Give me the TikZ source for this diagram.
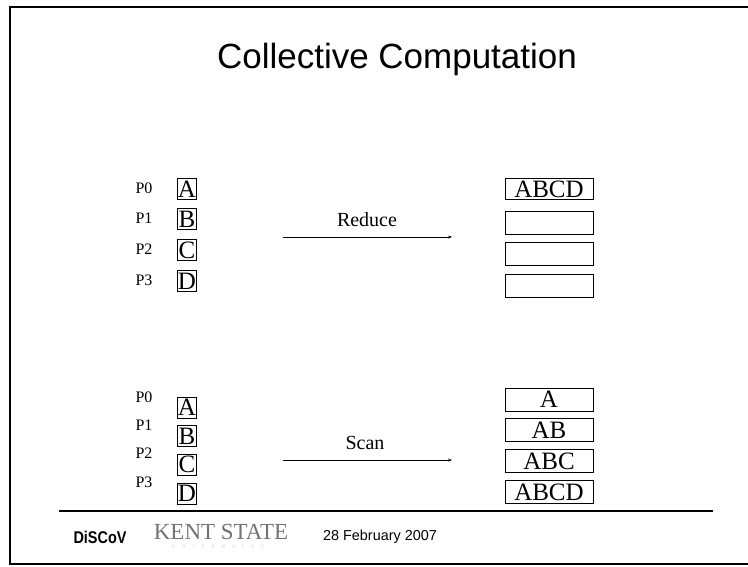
\documentclass[tikz,border=0pt]{standalone}
\usepackage{fontspec}
\setmainfont{Liberation Serif}
\newfontfamily\arialfont{Liberation Sans}
\usetikzlibrary{arrows.meta}
\begin{document}
\begin{tikzpicture}[x=1pt,y=-1pt,
  plabel/.style={inner sep=0pt,font=\fontsize{16}{16}\selectfont},
  cellbox/.style={draw,line width=0.8pt,inner sep=0pt,minimum width=19pt,minimum height=21pt,font=\fontsize{25}{25}\selectfont},
  resbox/.style={draw,line width=0.8pt,inner sep=0pt,minimum width=88pt,minimum height=23pt,font=\fontsize{25}{25}\selectfont},
  oplabel/.style={inner sep=0pt,font=\fontsize{20}{20}\selectfont},
  oparrow/.style={line width=0.8pt,-{Stealth[length=4pt,width=3pt]}},
  frame/.style={line width=2pt}]
\useasboundingbox (0,0) rectangle (748,566);
% frame
\draw[frame] (749,7) -- (10,7) -- (10,564) -- (749,564);
% title
\node[inner sep=0pt,font=\arialfont\fontsize{35}{35}\selectfont] (title) at (397,59) {Collective Computation};
% ---- Reduce group ----
\node[plabel] (rp0) at (144,188) {P0};
\node[plabel] (rp1) at (144,218) {P1};
\node[plabel] (rp2) at (144,249) {P2};
\node[plabel] (rp3) at (144,280) {P3};
\node[cellbox] (ra) at (187,189) {A};
\node[cellbox] (rb) at (187,219) {B};
\node[cellbox] (rc) at (187,250) {C};
\node[cellbox] (rd) at (187,281) {D};
\node[oplabel] (redlbl) at (367,220) {Reduce};
\coordinate (rs) at (283,237);
\coordinate (re) at (452,237);
\draw[oparrow] (rs) -- (re);
\node[resbox,minimum height=21pt] (r0) at (549,189) {ABCD};
\node[resbox] (r1) at (549,223) {};
\node[resbox] (r2) at (549,254) {};
\node[resbox] (r3) at (549,286) {};
% ---- Scan group ----
\node[plabel] (sp0) at (144,397) {P0};
\node[plabel] (sp1) at (144,425) {P1};
\node[plabel] (sp2) at (144,453) {P2};
\node[plabel] (sp3) at (144,482) {P3};
\node[cellbox] (sa) at (187,407.5) {A};
\node[cellbox] (sb) at (187,436) {B};
\node[cellbox] (sc) at (187,464.5) {C};
\node[cellbox] (sd) at (187,493.5) {D};
\node[oplabel] (scanlbl) at (365,443) {Scan};
\coordinate (ss) at (283,460);
\coordinate (se) at (452,460);
\draw[oparrow] (ss) -- (se);
\node[resbox] (s0) at (549,399.5) {A};
\node[resbox] (s1) at (549,430) {AB};
\node[resbox] (s2) at (549,461) {ABC};
\node[resbox] (s3) at (549,492) {ABCD};
% ---- footer ----
\coordinate (fl) at (59,511);
\coordinate (fr) at (713,511);
\draw[line width=2.5pt] (fl) -- (fr);
\node[inner sep=0pt,font=\arialfont\bfseries\fontsize{17}{17}\selectfont] (discov) at (100,537) {\scalebox{0.85}[1]{DiSCoV}};
\node[inner sep=0pt,text=black!55,font=\fontsize{23}{23}\selectfont] (kent) at (221,532) {KENT STATE};
\node[inner sep=0pt,text=black!20,font=\fontsize{5}{5}\selectfont] (univ) at (218,547) {U\hspace{7pt}N\hspace{7pt}I\hspace{7pt}V\hspace{7pt}E\hspace{7pt}R\hspace{7pt}S\hspace{7pt}I\hspace{7pt}T\hspace{7pt}Y};
\node[inner sep=0pt,font=\arialfont\fontsize{14.4}{14.4}\selectfont] (date) at (380,537) {28 February 2007};
\end{tikzpicture}
\end{document}
